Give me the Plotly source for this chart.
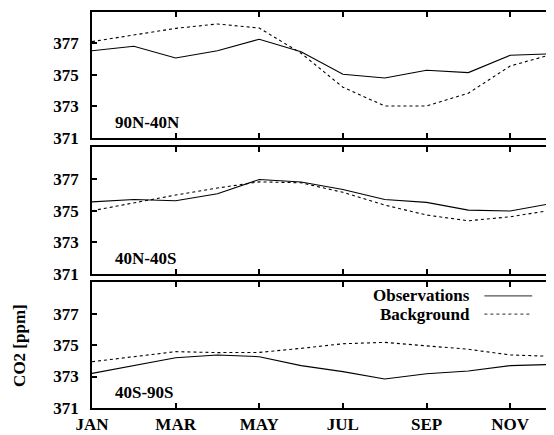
import plotly.graph_objects as go
from plotly.subplots import make_subplots

months = ["JAN", "FEB", "MAR", "APR", "MAY", "JUN", "JUL", "AUG", "SEP", "OCT", "NOV", "DEC"]
regions = ["90N-40N", "40N-40S", "40S-90S"]

obs_90n_40n = [376.54, 376.82, 376.08, 376.54, 377.27, 376.48, 375.04, 374.81, 375.30, 375.15, 376.25, 376.35]
bg_90n_40n = [377.12, 377.54, 377.96, 378.24, 377.98, 376.38, 374.22, 373.03, 373.03, 373.84, 375.57, 376.31]

obs_40n_40s = [375.55, 375.70, 375.62, 376.06, 376.96, 376.80, 376.33, 375.70, 375.52, 375.03, 374.97, 375.45]
bg_40n_40s = [374.99, 375.49, 375.98, 376.42, 376.81, 376.75, 376.15, 375.35, 374.72, 374.36, 374.61, 375.03]

obs_40s_90s = [373.20, 373.70, 374.19, 374.37, 374.26, 373.69, 373.31, 372.84, 373.18, 373.35, 373.69, 373.77]
bg_40s_90s = [373.94, 374.25, 374.58, 374.52, 374.53, 374.79, 375.08, 375.17, 374.96, 374.73, 374.37, 374.28]

y_ticks = [371, 373, 375, 377]
x_tick_idx = [0, 2, 4, 6, 8, 10]
legend_names = ["Observations", "Background"]

obs_all = [obs_90n_40n, obs_40n_40s, obs_40s_90s]
bg_all = [bg_90n_40n, bg_40n_40s, bg_40s_90s]

x = list(range(len(months)))

fig = make_subplots(rows=3, cols=1, shared_xaxes=False, vertical_spacing=0.02)

for i in range(3):
    fig.add_trace(go.Scatter(x=x, y=obs_all[i], mode="lines", name=legend_names[0],
                             line=dict(color="black", width=1.1), showlegend=False),
                  row=i + 1, col=1)
    fig.add_trace(go.Scatter(x=x, y=bg_all[i], mode="lines", name=legend_names[1],
                             line=dict(color="black", width=1.1, dash="dot"), showlegend=False),
                  row=i + 1, col=1)

domains = [[0.682, 1.0], [0.338, 0.659], [0.0, 0.318]]
font_main = dict(family="Liberation Serif, Times New Roman, Times, serif", size=17,
                 color="black", weight="bold")

for i in range(3):
    xa = "xaxis" if i == 0 else f"xaxis{i+1}"
    ya = "yaxis" if i == 0 else f"yaxis{i+1}"
    fig.layout[xa].update(
        range=[0, 11], domain=[0, 1],
        tickvals=[x[k] for k in x_tick_idx],
        ticktext=[months[k] for k in x_tick_idx] if i == 2 else ["" for _ in x_tick_idx],
        showticklabels=(i == 2),
        ticks="inside", ticklen=5, tickwidth=1.5, tickcolor="black",
        showline=True, linecolor="black", linewidth=1.5, mirror="ticks",
        showgrid=False, zeroline=False, tickfont=font_main,
    )
    fig.layout[ya].update(
        range=[371, 379], domain=domains[i],
        tickvals=y_ticks, ticktext=[str(v) for v in y_ticks],
        ticks="inside", ticklen=5, tickwidth=1.5, tickcolor="black",
        showline=True, linecolor="black", linewidth=1.5, mirror="ticks",
        showgrid=False, zeroline=False, tickfont=font_main,
        ticklabelstandoff=8,
    )
    fig.add_annotation(text=regions[i], xref=f"{'x' if i == 0 else 'x' + str(i+1)} domain",
                       yref=f"{'y' if i == 0 else 'y' + str(i+1)} domain",
                       x=0.045, y=0.125, xanchor="left", yanchor="middle",
                       showarrow=False, font=font_main)

# legend (text left of sample, gnuplot style)
leg_y = [0.283, 0.237]
for j, name in enumerate(legend_names):
    fig.add_annotation(text=name, xref="paper", yref="paper", x=0.827, y=leg_y[j],
                       xanchor="right", yanchor="middle", showarrow=False, font=font_main)
    fig.add_shape(type="line", xref="paper", yref="paper", x0=0.853, x1=0.957,
                  y0=leg_y[j], y1=leg_y[j],
                  line=dict(color="#555555", width=1.2, dash="solid" if j == 0 else "dot"))

fig.add_annotation(text="CO2 [ppm]", xref="paper", yref="paper", x=-0.159, y=0.159,
                   xanchor="center", yanchor="middle", textangle=-90, showarrow=False,
                   font=font_main)

# page body has an 8px default margin; size the figure to land where the reference is
fig.update_layout(
    width=546, height=427,
    margin=dict(l=84, r=0, t=4, b=27),
    paper_bgcolor="white", plot_bgcolor="white",
    font=font_main,
    showlegend=False,
)

fig.write_html("out.html")
